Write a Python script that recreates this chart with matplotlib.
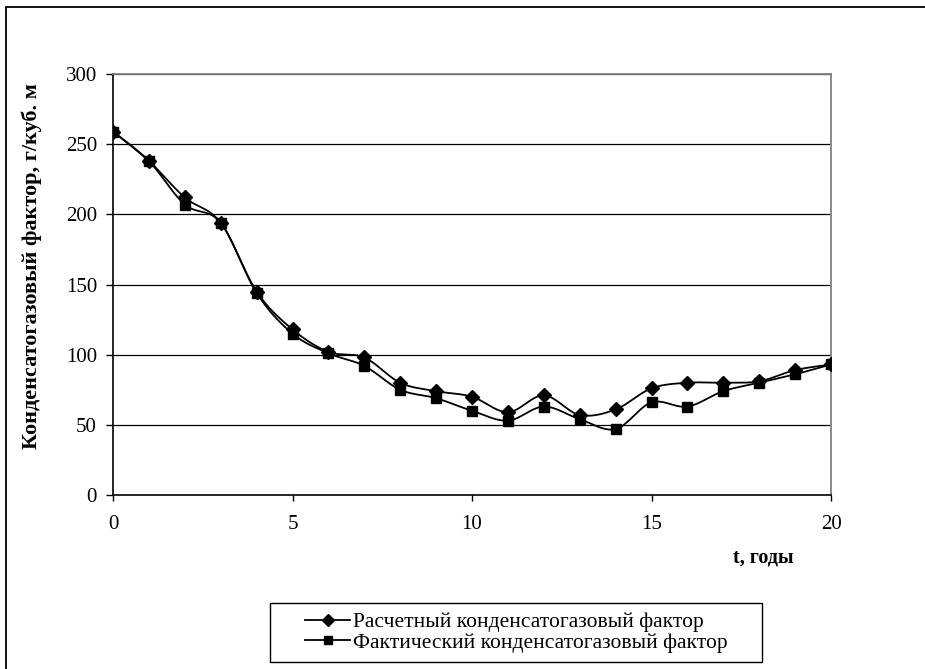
import numpy as np
import matplotlib
matplotlib.use("Agg")
import matplotlib.pyplot as plt
from matplotlib.patches import Rectangle
from matplotlib.lines import Line2D

plt.rcParams['font.family'] = ['Liberation Serif', 'DejaVu Serif']

t = list(range(0, 21))
calc = [259, 238, 212, 194, 145, 118, 102, 98, 80, 74, 70, 59, 71, 57, 61, 76, 80, 80, 81, 89, 93]
fact = [259, 238, 207, 194, 144, 115, 101, 92, 75, 69, 60, 53, 63, 54, 47, 66, 63, 74, 80, 86, 93]
label_calc = "Расчетный конденсатогазовый фактор"
label_fact = "Фактический конденсатогазовый фактор"
y_ticks = [0, 50, 100, 150, 200, 250, 300]
x_ticks = [0, 5, 10, 15, 20]


def smooth(x, y, n=20, tension=0.5):
    x = np.asarray(x, float)
    y = np.asarray(y, float)
    P = np.column_stack([x, y])
    P = np.vstack([P[0], P, P[-1]])
    out = []
    for i in range(1, len(P) - 2):
        p0, p1, p2, p3 = P[i - 1], P[i], P[i + 1], P[i + 2]
        m1 = tension * (p2 - p0)
        m2 = tension * (p3 - p1)
        s = np.linspace(0, 1, n, endpoint=(i == len(P) - 3))
        h00 = 2 * s**3 - 3 * s**2 + 1
        h10 = s**3 - 2 * s**2 + s
        h01 = -2 * s**3 + 3 * s**2
        h11 = s**3 - s**2
        seg = (h00[:, None] * p1 + h10[:, None] * m1 + h01[:, None] * p2 + h11[:, None] * m2)
        out.append(seg)
    out = np.vstack(out)
    return out[:, 0], out[:, 1]


fig = plt.figure(figsize=(9.25, 6.69), dpi=100)
ax = fig.add_axes([113 / 925, 1 - 495 / 669, (831 - 113) / 925, (495 - 74) / 669])

for vals in (calc, fact):
    sx, sy = smooth(t, vals)
    ax.plot(sx, sy, color='black', lw=1.3, zorder=3)
ax.plot(t, calc, linestyle='none', marker='D', ms=7, color='black', zorder=4)
ax.plot(t, fact, linestyle='none', marker='s', ms=6.5, color='black', zorder=4)

ax.set_xlim(0, 20)
ax.set_ylim(0, 300)
ax.set_yticks(y_ticks)
ax.set_xticks(x_ticks)
ax.tick_params(axis='both', labelsize=15, direction='out', width=1, color='black')
ax.tick_params(axis='y', length=5, pad=6.5)
ax.tick_params(axis='x', length=4.5, pad=10)
for v in y_ticks[1:]:
    ax.axhline(v, color='black', lw=0.9, zorder=1)
for side in ('top', 'right'):
    ax.spines[side].set_color('#808080')
    ax.spines[side].set_linewidth(1.3)
for side in ('left', 'bottom'):
    ax.spines[side].set_color('black')
    ax.spines[side].set_linewidth(1.2)

fig.text(32 / 925, 1 - 266 / 669, "Конденсатогазовый фактор, г/куб. м", rotation=90,
         ha='center', va='center', fontsize=16, fontweight='bold')
fig.text(763 / 925, 1 - 558 / 669, "t, годы", ha='center', va='center', fontsize=14.5, fontweight='bold')

fig.patches.append(Rectangle((6 / 925, -0.1), 2, 1 - 7 / 669 + 0.1, transform=fig.transFigure,
                             fill=False, edgecolor='black', lw=1.3))

# legend frame
fig.patches.append(Rectangle((270 / 925, 1 - 662 / 669), (762 - 270) / 925, (662 - 603) / 669,
                             transform=fig.transFigure, fill=False, edgecolor='black', lw=1.0))

handles = [Line2D([], [], color='black', lw=1.3, marker='D', ms=6),
           Line2D([], [], color='black', lw=1.3, marker='s', ms=6)]
leg = fig.legend(handles, [label_calc, label_fact], loc='center left',
                 bbox_to_anchor=(305 / 925, 1 - 632.5 / 669), fontsize=15.5, frameon=False,
                 handlelength=2.1, handletextpad=0.15, borderpad=0, labelspacing=0.0,
                 borderaxespad=0)

fig.savefig("out.png", dpi=100)
